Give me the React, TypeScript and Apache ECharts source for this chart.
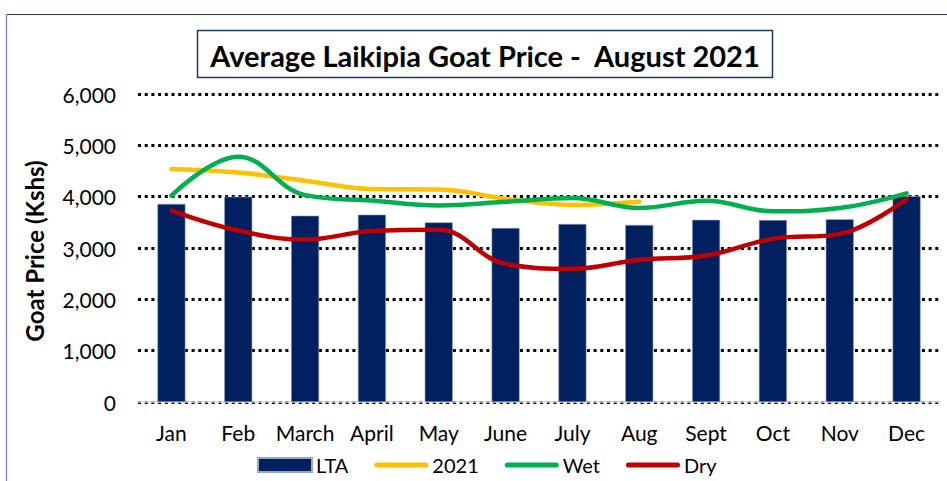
import React, { useEffect, useRef } from "react";
import * as echarts from "echarts";

const months = ["Jan", "Feb", "March", "April", "May", "June", "July", "Aug", "Sept", "Oct", "Nov", "Dec"];
const lta = [3860, 4000, 3630, 3650, 3500, 3390, 3470, 3450, 3550, 3545, 3560, 4010];
const y2021 = [4540, 4470, 4310, 4150, 4140, 3960, 3840, 3900, null, null, null, null];
const wet = [4020, 4780, 4030, 3925, 3830, 3900, 3975, 3780, 3920, 3715, 3780, 4065];
const dry = [3730, 3340, 3165, 3330, 3355, 2690, 2595, 2770, 2855, 3180, 3275, 3960];
const yTicks = [0, 1000, 2000, 3000, 4000, 5000, 6000];

const FONT = "Lato, 'Open Sans', sans-serif";
const LINE_ICON = "path://M2.5,0 L51.5,0 A2.5,2.5 0 0 1 51.5,5 L2.5,5 A2.5,2.5 0 0 1 2.5,0 Z";

export default function App() {
  const ref = useRef<HTMLDivElement>(null);
  useEffect(() => {
    if (!ref.current) return;
    const chart = echarts.init(ref.current, undefined, { renderer: "svg" });
    const lineSeries = (name: string, data: (number | null)[], color: string) => ({
      name,
      type: "line",
      data,
      smooth: 0.4,
      showSymbol: false,
      symbol: "none",
      connectNulls: false,
      lineStyle: { color, width: 4.5, cap: "round" },
      itemStyle: { color },
      z: 3,
    });
    chart.setOption({
      animation: false,
      backgroundColor: "#ffffff",
      textStyle: { fontFamily: FONT },
      grid: { left: 138, right: 7, top: 94, bottom: 79, containLabel: false },
      xAxis: {
        type: "category",
        data: months,
        axisLine: { show: true, lineStyle: { color: "#d9d9d9", width: 1.5 } },
        axisTick: { show: false },
        axisLabel: { color: "#000", fontSize: 21, margin: 20, fontFamily: FONT, interval: 0 },
      },
      yAxis: {
        type: "value",
        min: yTicks[0],
        max: yTicks[yTicks.length - 1],
        interval: 1000,
        axisLine: { show: false },
        axisTick: { show: false },
        axisLabel: {
          color: "#000",
          fontSize: 21,
          margin: 22,
          fontFamily: FONT,
          formatter: (v: number) => (v === 0 ? "0" : v.toLocaleString("en-US")),
        },
        splitLine: {
          show: true,
          lineStyle: { color: "#000", width: 3, type: [3, 3.7] },
        },
      },
      legend: {
        top: 455,
        left: 257,
        padding: 0,
        itemWidth: 54,
        itemHeight: 14,
        itemGap: 26,
        symbolKeepAspect: true,
        textStyle: {
          color: "#000",
          fontSize: 20,
          lineHeight: 20,
          fontFamily: FONT,
          padding: [0, 0, 0, -1],
        },
        data: [
          { name: "LTA", icon: "rect" },
          { name: "2021", icon: LINE_ICON, itemStyle: { color: "#FFC000" } },
          { name: "Wet", icon: LINE_ICON, itemStyle: { color: "#00B050" } },
          { name: "Dry", icon: LINE_ICON, itemStyle: { color: "#C00000" } },
        ],
      },
      series: [
        {
          name: "LTA",
          type: "bar",
          data: lta,
          barWidth: "42%",
          itemStyle: { color: "#002060", borderColor: "#9aa8c4", borderWidth: 0.6 },
          z: 2,
        },
        lineSeries("2021", y2021, "#FFC000"),
        lineSeries("Wet", wet, "#00B050"),
        lineSeries("Dry", dry, "#C00000"),
      ],
      graphic: [
        {
          type: "line",
          shape: { x1: 6.5, y1: 14.5, x2: 947, y2: 14.5 },
          style: { stroke: "#203864", lineWidth: 1.2 },
          silent: true,
        },
        {
          type: "line",
          shape: { x1: 6.5, y1: 14.5, x2: 6.5, y2: 481 },
          style: { stroke: "#8497b0", lineWidth: 1.5 },
          silent: true,
        },
        {
          type: "rect",
          shape: { x: 197.5, y: 30.5, width: 575, height: 47 },
          style: { fill: "#fff", stroke: "#203864", lineWidth: 1.5 },
          silent: true,
        },
        {
          type: "text",
          x: 485,
          y: 55,
          style: {
            text: "Average Laikipia Goat Price -  August 2021",
            fontFamily: FONT,
            fontWeight: "bold",
            fontSize: 29,
            fill: "#000",
            align: "center",
            verticalAlign: "middle",
          },
          silent: true,
        },
        {
          type: "text",
          x: 34,
          y: 251,
          rotation: Math.PI / 2,
          style: {
            text: "Goat Price (Kshs)",
            fontFamily: FONT,
            fontWeight: "bold",
            fontSize: 24,
            fill: "#000",
            align: "center",
            verticalAlign: "middle",
          },
          silent: true,
        },
      ],
    });
    return () => chart.dispose();
  }, []);
  return (
    <div
      ref={ref}
      style={{ position: "fixed", left: 0, top: 0, width: 947, height: 481 }}
    />
  );
}
